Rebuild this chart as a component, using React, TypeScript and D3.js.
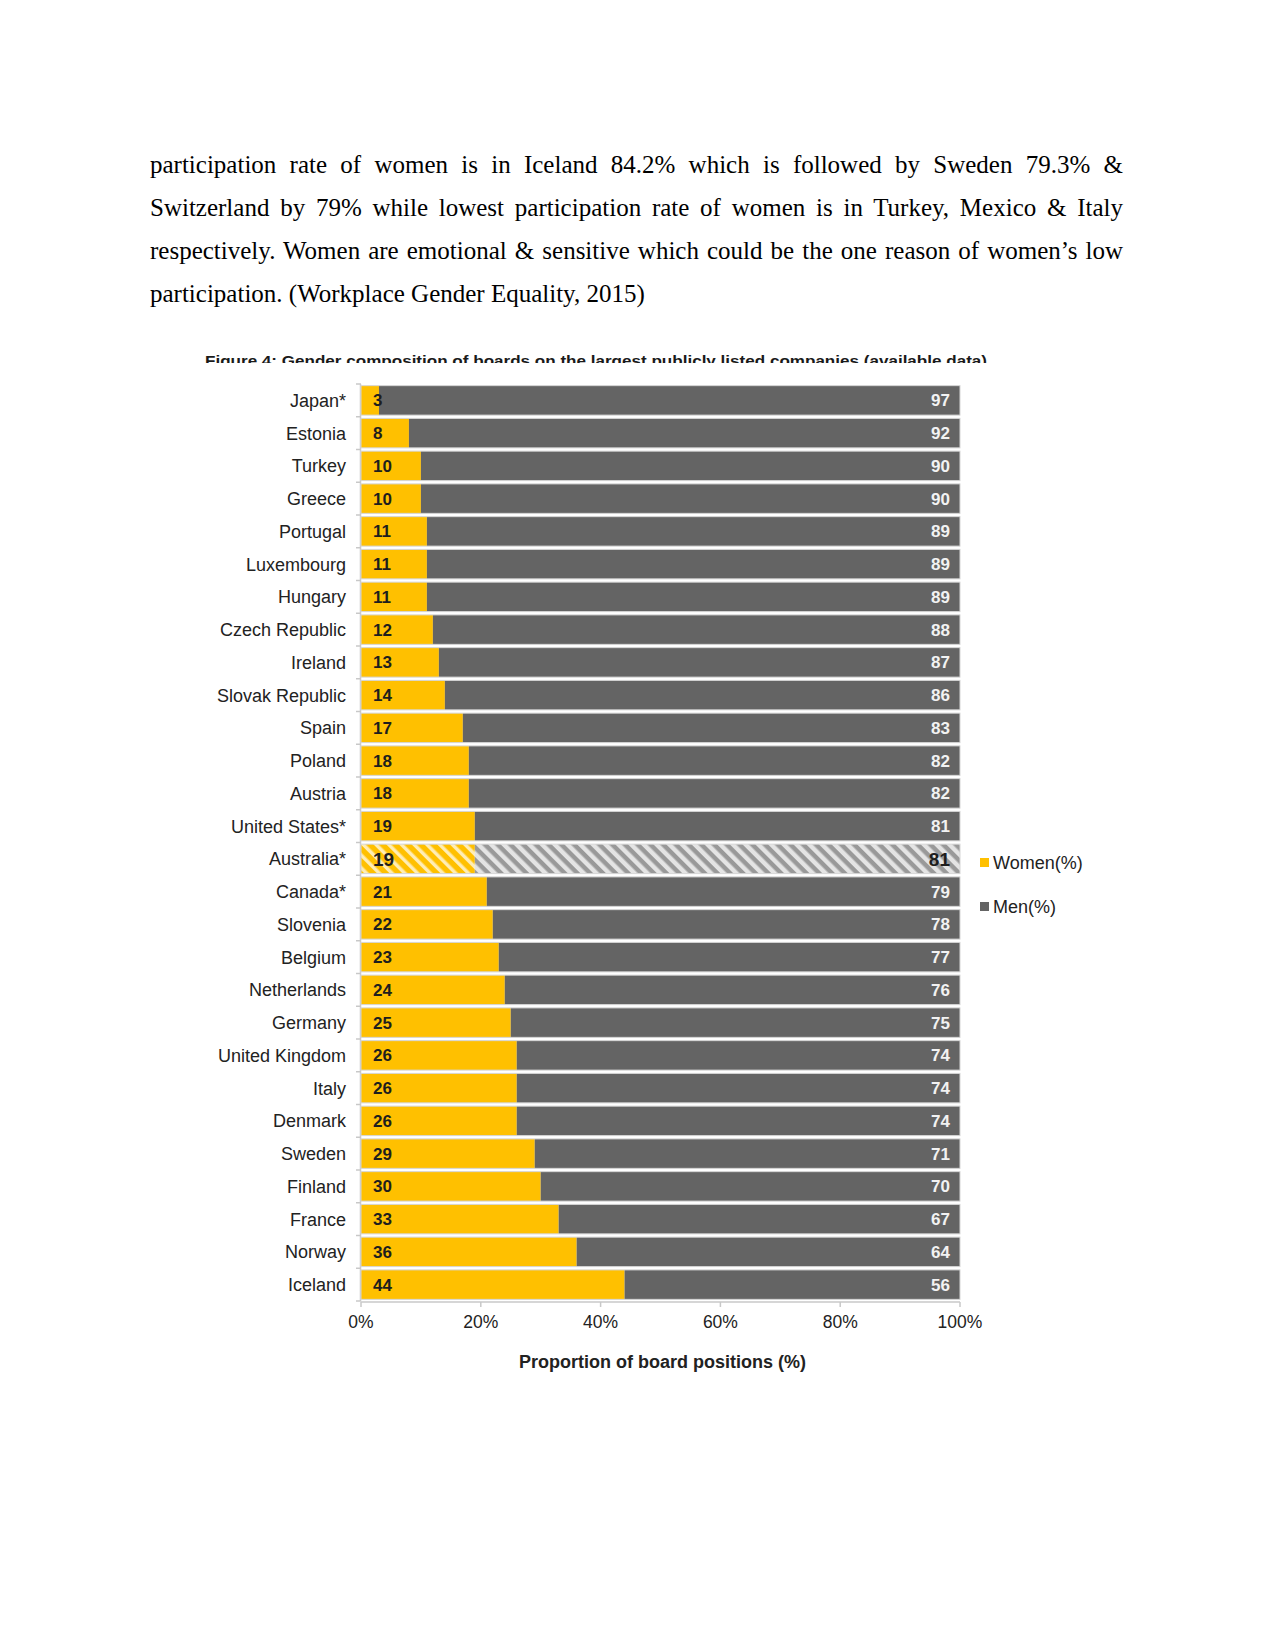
import React, { useEffect, useRef } from "react";
import * as d3 from "d3";

const countries = [
  "Japan*", "Estonia", "Turkey", "Greece", "Portugal", "Luxembourg", "Hungary",
  "Czech Republic", "Ireland", "Slovak Republic", "Spain", "Poland", "Austria",
  "United States*", "Australia*", "Canada*", "Slovenia", "Belgium", "Netherlands",
  "Germany", "United Kingdom", "Italy", "Denmark", "Sweden", "Finland", "France",
  "Norway", "Iceland",
];
const women = [3, 8, 10, 10, 11, 11, 11, 12, 13, 14, 17, 18, 18, 19, 19, 21, 22, 23, 24, 25, 26, 26, 26, 29, 30, 33, 36, 44];
const men = [97, 92, 90, 90, 89, 89, 89, 88, 87, 86, 83, 82, 82, 81, 81, 79, 78, 77, 76, 75, 74, 74, 74, 71, 70, 67, 64, 56];
const xTicks = [0, 20, 40, 60, 80, 100];
const hatched = ["Australia*"];
const seriesNames = ["Women(%)", "Men(%)"];

const paragraphLines = [
  "participation rate of women is in Iceland 84.2% which is followed by Sweden 79.3% &",
  "Switzerland by 79% while lowest participation rate of women is in Turkey, Mexico & Italy",
  "respectively. Women are emotional & sensitive which could be the one reason of women\u2019s low",
  "participation. (Workplace Gender Equality, 2015)",
];
const titleText =
  "Figure 4: Gender composition of boards on the largest publicly listed companies (available data)";
const xAxisTitle = "Proportion of board positions (%)";

const YELLOW = "#FFC000";
const GRAY = "#646464";
const SANS = "'Liberation Sans', Arial, sans-serif";

export default function App() {
  const svgRef = useRef<SVGSVGElement | null>(null);

  const x = d3.scaleLinear().domain([0, 100]).range([361, 960]);
  const y = d3.scaleBand<string>().domain(countries).range([384, 1301]).paddingInner(0.1).paddingOuter(0.05);

  useEffect(() => {
    const svg = d3.select(svgRef.current);
    const left = 150;
    const right = 1123;
    svg.selectAll<SVGTextElement, unknown>("text.para").each(function (_, i) {
      const el = this as SVGTextElement;
      if (i === paragraphLines.length - 1) return;
      el.setAttribute("word-spacing", "0");
      const w = el.getComputedTextLength();
      const spaces = (paragraphLines[i].match(/ /g) || []).length;
      const extra = (right - left - w) / spaces;
      el.setAttribute("word-spacing", String(extra));
    });
  }, []);

  const bw = y.bandwidth();

  return (
    <svg
      ref={svgRef}
      width={1275}
      height={1650}
      style={{ position: "absolute", left: 0, top: 0, background: "#fff" }}
    >
      <defs>
        <pattern id="hatchY" patternUnits="userSpaceOnUse" width="9" height="9" patternTransform="rotate(-45)">
          <rect width="9" height="9" fill={YELLOW} />
          <rect width="3.5" height="9" fill="#FFEDB5" />
        </pattern>
        <pattern id="hatchG" patternUnits="userSpaceOnUse" width="9" height="9" patternTransform="rotate(-45)">
          <rect width="9" height="9" fill="#999999" />
          <rect width="4.5" height="9" fill="#E4E4E4" />
        </pattern>
        <clipPath id="titleClip">
          <rect x={0} y={340} width={1275} height={23} />
        </clipPath>
      </defs>

      {paragraphLines.map((line, i) => (
        <text
          key={i}
          className="para"
          x={150}
          y={172.5 + i * 43.1}
          fontFamily="'Liberation Serif', 'Times New Roman', serif"
          fontSize={25}
          fill="#000"
          style={{ whiteSpace: "pre" }}
        >
          {line}
        </text>
      ))}

      <text
        x={205}
        y={366}
        clipPath="url(#titleClip)"
        fontFamily={SANS}
        fontSize={15}
        fontWeight="bold"
        fill="#1a1a1a"
        textLength={782}
        lengthAdjust="spacingAndGlyphs"
      >
        {titleText}
      </text>

      {/* y axis line and ticks */}
      <line x1={x(0) - 0.5} x2={x(0) - 0.5} y1={y.range()[0]} y2={y.range()[1]} stroke="#c8c8c8" strokeWidth={1.5} />
      {countries.map((c, i) => (
        <line
          key={"yt" + i}
          x1={x(0) - 5}
          x2={x(0)}
          y1={(y(c) as number) - (y.step() - bw) / 2}
          y2={(y(c) as number) - (y.step() - bw) / 2}
          stroke="#c8c8c8"
          strokeWidth={1.5}
        />
      ))}
      <line x1={x(0) - 5} x2={x(0)} y1={y.range()[1]} y2={y.range()[1]} stroke="#c8c8c8" strokeWidth={1.5} />

      {/* bars */}
      {countries.map((c, i) => {
        const yy = y(c) as number;
        const isH = hatched.includes(c);
        return (
          <g key={c}>
            <rect x={x(0)} y={yy} width={x(women[i]) - x(0)} height={bw} fill={isH ? "url(#hatchY)" : YELLOW} />
            <rect
              x={x(women[i])}
              y={yy}
              width={x(women[i] + men[i]) - x(women[i])}
              height={bw}
              fill={isH ? "url(#hatchG)" : GRAY}
            />
            <rect x={x(0)} y={yy} width={x(100) - x(0)} height={bw} fill="none" stroke="#d6d6d6" strokeWidth={1} />
            <text
              x={x(0) + 12}
              y={yy + bw / 2}
              dy="0.36em"
              fontFamily={SANS}
              fontSize={isH ? 19 : 17}
              fontWeight="bold"
              fill="#1e1e1e"
            >
              {women[i]}
            </text>
            <text
              x={x(100) - 10}
              y={yy + bw / 2}
              dy="0.36em"
              textAnchor="end"
              fontFamily={SANS}
              fontSize={isH ? 19 : 17}
              fontWeight="bold"
              fill={isH ? "#1e1e1e" : "#f2f2f2"}
            >
              {men[i]}
            </text>
            <text
              x={346}
              y={yy + bw / 2}
              dy="0.36em"
              textAnchor="end"
              fontFamily={SANS}
              fontSize={18}
              fill="#222"
            >
              {c}
            </text>
          </g>
        );
      })}

      {/* x axis */}
      <line x1={x(0)} x2={x(100)} y1={1302} y2={1302} stroke="#c8c8c8" strokeWidth={1.5} />
      {xTicks.map((t) => (
        <g key={"xt" + t}>
          <line x1={x(t)} x2={x(t)} y1={1302} y2={1307} stroke="#c8c8c8" strokeWidth={1.5} />
          <text
            x={x(t)}
            y={1328}
            textAnchor="middle"
            fontFamily={SANS}
            fontSize={17.5}
            fill="#222"
          >
            {t + "%"}
          </text>
        </g>
      ))}
      <text
        x={(x(0) + x(100)) / 2 + 2}
        y={1368}
        textAnchor="middle"
        fontFamily={SANS}
        fontSize={18}
        fontWeight="bold"
        fill="#222"
      >
        {xAxisTitle}
      </text>

      {/* legend */}
      {seriesNames.map((s, i) => (
        <g key={s} transform={`translate(980, ${863 + i * 44})`}>
          <rect x={0} y={-5} width={9} height={9} fill={i === 0 ? YELLOW : GRAY} />
          <text x={13} y={0} dy="0.36em" fontFamily={SANS} fontSize={18} fill="#222">
            {s}
          </text>
        </g>
      ))}
    </svg>
  );
}
